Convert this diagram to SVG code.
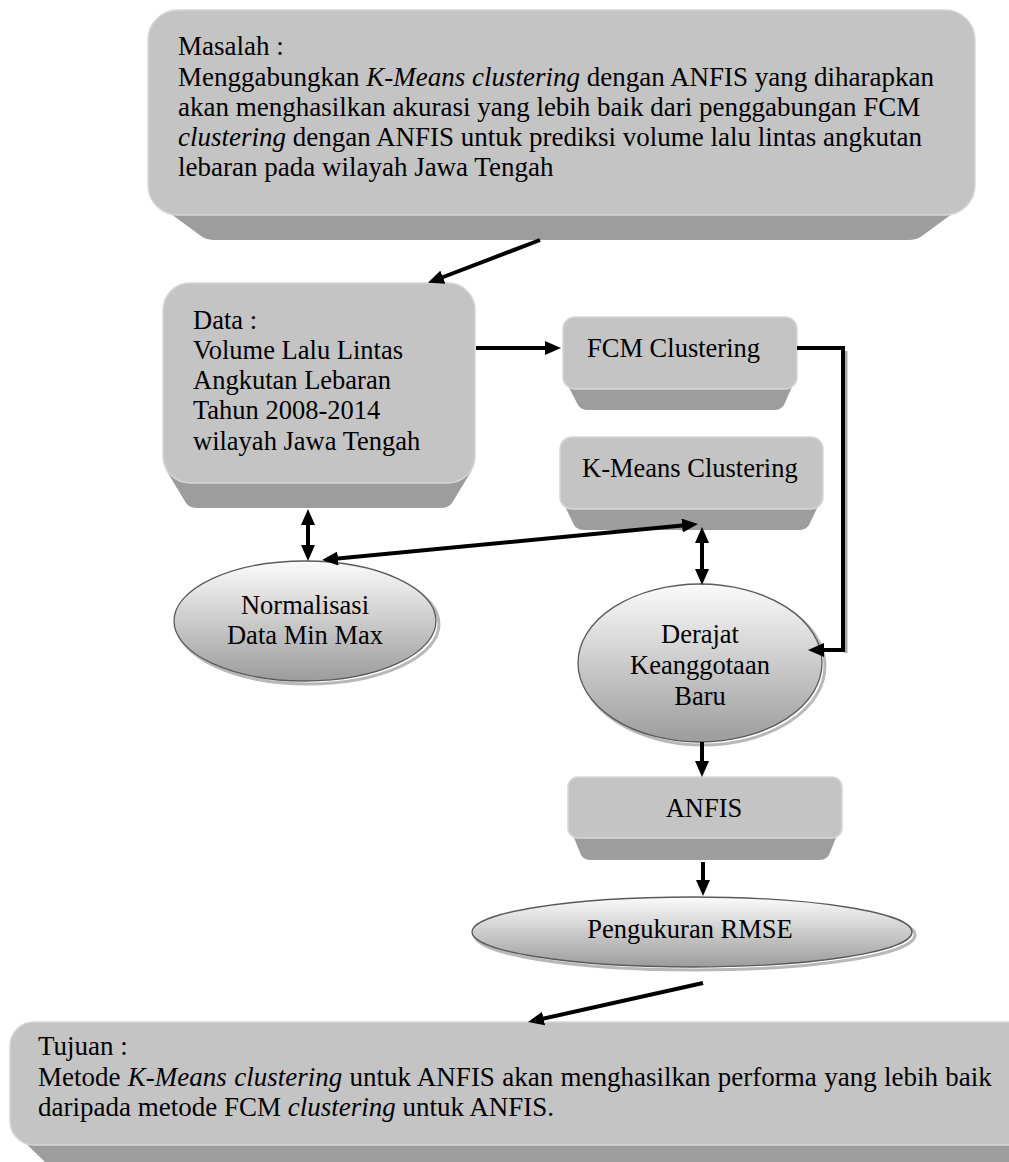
<svg xmlns="http://www.w3.org/2000/svg" width="1009" height="1162" viewBox="0 0 1009 1162">
<defs>
<style>
.face{fill:#c4c4c4;stroke:#d6d6d6;stroke-width:1.5}
.bev{fill:#9d9d9d}
.ell{fill:url(#eg);stroke:#5a5a5a;stroke-width:1.3}
.esh{fill:none;stroke:#b8b8b8;stroke-width:3}
.t{font-family:"Liberation Serif","Times New Roman",serif;font-size:26.5px;fill:#000}
.tb{font-size:27px}
.c{text-anchor:middle}
.i{font-style:italic}
.ln{fill:none;stroke:#000;stroke-width:4}
.sh{fill:none;stroke:#a8a8a8;stroke-width:3}
</style>
<linearGradient id="eg" x1="0" y1="0" x2="0" y2="1">
<stop offset="0" stop-color="#fbfbfb"/>
<stop offset="1" stop-color="#9c9c9c"/>
</linearGradient>
<marker id="ah" viewBox="0 0 16 14" refX="8" refY="7" markerWidth="16" markerHeight="14" orient="auto-start-reverse" markerUnits="userSpaceOnUse">
<path d="M0,0 L16,7 L0,14 z" fill="#000"/>
</marker>
</defs>

<g id="masalah">
<path class="bev" d="M152,200 L971,200 L922,236 Q917,240 908,240 L215,240 Q206,240 201,236 Z"/>
<rect class="face" x="148" y="10" width="827" height="205" rx="30"/>
<text class="t tb" x="178" y="55">Masalah :</text>
<text class="t tb" x="178" y="86">Menggabungkan <tspan class="i">K-Means clustering</tspan> dengan ANFIS yang diharapkan</text>
<text class="t tb" x="178" y="116">akan menghasilkan akurasi yang lebih baik dari penggabungan FCM</text>
<text class="t tb" x="178" y="146"><tspan class="i">clustering</tspan> dengan ANFIS untuk prediksi volume lalu lintas angkutan</text>
<text class="t tb" x="178" y="176">lebaran pada wilayah Jawa Tengah</text>
</g>

<g id="data">
<path class="bev" d="M166,470 L472,470 L452,503 Q449,508 440,508 L198,508 Q189,508 186,503 Z"/>
<rect class="face" x="163" y="283" width="312" height="200" rx="27"/>
<text class="t" x="193" y="329">Data :</text>
<text class="t" x="193" y="359">Volume Lalu Lintas</text>
<text class="t" x="193" y="389">Angkutan Lebaran</text>
<text class="t" x="193" y="419">Tahun 2008-2014</text>
<text class="t" x="193" y="450">wilayah Jawa Tengah</text>
</g>

<g id="fcm">
<path class="bev" d="M565,380 L795,380 L784,405 Q781,410 774,410 L588,410 Q581,410 578,405 Z"/>
<rect class="face" x="563" y="317" width="234" height="72" rx="12"/>
<text class="t" x="587" y="357">FCM Clustering</text>
</g>

<g id="kmeans">
<path class="bev" d="M562,500 L821,500 L809,525 Q806,530 799,530 L584,530 Q577,530 574,525 Z"/>
<rect class="face" x="560" y="437" width="263" height="72" rx="12"/>
<text class="t" x="582" y="477">K-Means Clustering</text>
</g>

<g id="normalisasi">
<ellipse class="esh" cx="308" cy="624" rx="131" ry="60"/>
<ellipse class="ell" cx="305" cy="621" rx="131" ry="60"/>
<text class="t c" x="305" y="614">Normalisasi</text>
<text class="t c" x="305" y="644">Data Min Max</text>
</g>

<g id="derajat">
<ellipse class="esh" cx="703" cy="666" rx="122" ry="79"/>
<ellipse class="ell" cx="700" cy="663" rx="122" ry="79"/>
<text class="t c" x="700" y="643">Derajat</text>
<text class="t c" x="700" y="674">Keanggotaan</text>
<text class="t c" x="700" y="705">Baru</text>
</g>

<g id="anfis">
<path class="bev" d="M570,828 L840,828 L829,855 Q826,860 819,860 L591,860 Q584,860 581,855 Z"/>
<rect class="face" x="568" y="777" width="274" height="61" rx="10"/>
<text class="t c" x="704" y="817">ANFIS</text>
</g>

<g id="rmse">
<ellipse class="esh" cx="695" cy="935" rx="220" ry="35"/>
<ellipse class="ell" cx="692" cy="932" rx="220" ry="35"/>
<text class="t c" x="690" y="938">Pengukuran RMSE</text>
</g>

<g id="tujuan">
<path class="bev" d="M12,1130 L1009,1130 L1009,1162 L45,1162 Z"/>
<rect class="face" x="10" y="1022" width="1030" height="123" rx="24"/>
<text class="t tb" x="38" y="1055">Tujuan :</text>
<text class="t tb" x="38" y="1086" word-spacing="0.6">Metode <tspan class="i">K-Means clustering</tspan> untuk ANFIS akan menghasilkan performa yang lebih baik</text>
<text class="t tb" x="38" y="1116">daripada metode FCM <tspan class="i">clustering</tspan> untuk ANFIS.</text>
</g>

<g id="connectors">
<path class="sh" d="M846,351 L846,653"/>
<path class="ln" d="M540,240 L435.4,280" marker-end="url(#ah)"/>
<path class="ln" d="M476,348 L553,348" marker-end="url(#ah)"/>
<path class="ln" d="M797,348 L843,348 L843,650 L816,650" marker-end="url(#ah)"/>
<path class="ln" d="M308,517 L308,553" marker-start="url(#ah)" marker-end="url(#ah)"/>
<path class="ln" d="M330,559.2 L690,524.8" marker-start="url(#ah)" marker-end="url(#ah)"/>
<path class="ln" d="M702,535 L702,577" marker-start="url(#ah)" marker-end="url(#ah)"/>
<path class="ln" d="M702,742 L702,769" marker-end="url(#ah)"/>
<path class="ln" d="M703,862 L703,888" marker-end="url(#ah)"/>
<path class="ln" d="M703,983 L535.8,1020.3" marker-end="url(#ah)"/>
</g>
</svg>
